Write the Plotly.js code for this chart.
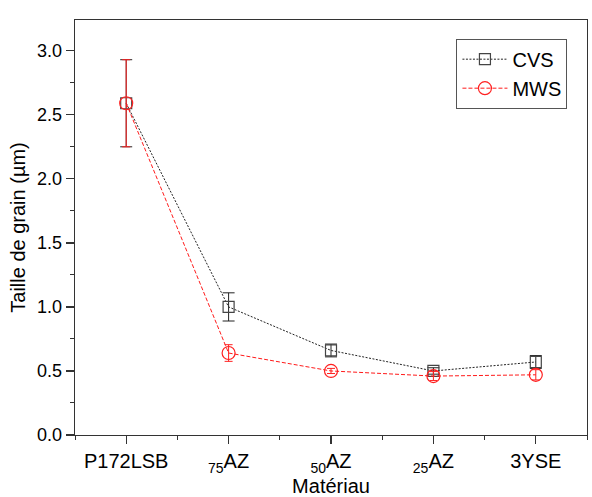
<!DOCTYPE html>
<html><head><meta charset="utf-8">
<script src="https://cdn.plot.ly/plotly-3.0.1.min.js"></script>
<style>html,body{margin:0;padding:0;background:#fff}#chart{width:592px;height:497px}</style>
</head><body><div id="chart"></div>
<script>
const categories = ["P172LSB", "<sub>75</sub>AZ", "<sub>50</sub>AZ", "<sub>25</sub>AZ", "3YSE"];
const cvsValues = [2.59, 1.00, 0.66, 0.50, 0.57];
const cvsErrors = [0.34, 0.11, 0.05, 0.025, 0.05];
const mwsValues = [2.59, 0.64, 0.50, 0.46, 0.47];
const mwsErrors = [0.34, 0.065, 0.02, 0.035, 0.04];
const yTicks = [0, 0.5, 1.0, 1.5, 2.0, 2.5, 3.0];

const xIdx = categories.map((c, i) => i);
const font = "Liberation Sans, Arial, sans-serif";

const traces = [
  {
    x: xIdx, y: cvsValues, name: "CVS", type: "scatter", mode: "lines+markers",
    line: {color: "#222", width: 1, dash: "2px,1.5px"},
    marker: {symbol: "square-open", size: 11, color: "#444", line: {width: 1.2}},
    error_y: {type: "data", array: cvsErrors, visible: true, color: "#222", thickness: 1, width: 6}
  },
  {
    x: xIdx, y: mwsValues, name: "MWS", type: "scatter", mode: "lines+markers",
    line: {color: "#ff1a1a", width: 1, dash: "4px,2px"},
    marker: {symbol: "circle-open", size: 13, color: "#ff2020", line: {width: 1.2}},
    error_y: {type: "data", array: mwsErrors, visible: true, color: "#ff2020", thickness: 1, width: 4}
  }
];

const layout = {
  width: 592, height: 497,
  margin: {l: 75, r: 5, t: 20, b: 62},
  paper_bgcolor: "#fff", plot_bgcolor: "#fff",
  font: {family: font, color: "#000", size: 18},
  showlegend: true,
  legend: {
    x: 0.745, y: 0.955, xanchor: "left", yanchor: "top",
    bordercolor: "#555", borderwidth: 1, bgcolor: "#fff",
    font: {size: 20, family: font}, tracegroupgap: 0, itemwidth: 45
  },
  xaxis: {
    range: [-0.5, 4.5], tickmode: "array", tickvals: xIdx, ticktext: categories,
    showgrid: false, zeroline: false, showline: true, linecolor: "#333", linewidth: 1.3,
    mirror: true, ticks: "outside", ticklen: 8, tickwidth: 1.3, tickcolor: "#333",
    tickfont: {size: 20, family: font},
    minor: {tickmode: "linear", tick0: 0.5, dtick: 1, ticks: "outside", ticklen: 4, tickwidth: 1, tickcolor: "#333", showgrid: false},
    title: {text: "Matériau", font: {size: 20, family: font}, standoff: 2}
  },
  yaxis: {
    range: [0, 3.24], tickmode: "array", tickvals: yTicks, tickformat: ".1f",
    showgrid: false, zeroline: false, showline: true, linecolor: "#333", linewidth: 1.3,
    mirror: true, ticks: "outside", ticklen: 8, tickwidth: 1.3, tickcolor: "#333",
    tickfont: {size: 18, family: font},
    minor: {tickmode: "linear", tick0: 0.25, dtick: 0.5, ticks: "outside", ticklen: 4, tickwidth: 1, tickcolor: "#333", showgrid: false},
    title: {text: "Taille de grain (µm)", font: {size: 20, family: font}, standoff: 6}
  }
};

Plotly.newPlot("chart", traces, layout, {displayModeBar: false, staticPlot: true});
</script></body></html>
